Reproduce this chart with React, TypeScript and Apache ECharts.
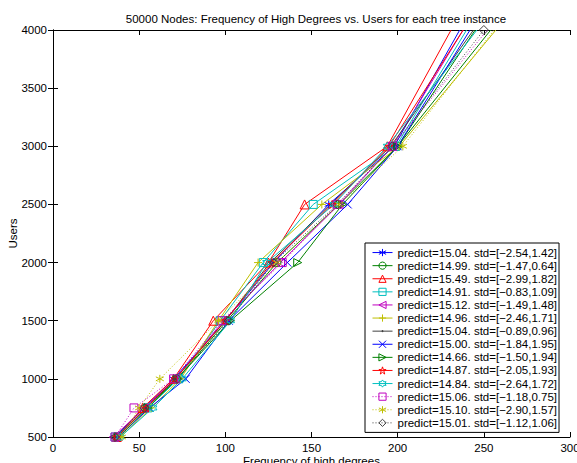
import React, { useEffect, useRef } from "react";
import * as echarts from "echarts";

const usersLevels = [500, 750, 1000, 1500, 2000, 2500, 3000, 4000];

const s1 = [36, 53, 70, 100, 128, 160, 198, 236];
const s2 = [37, 54, 72, 101, 130, 166, 200, 245];
const s3 = [37, 52, 70, 93, 125, 146, 194, 231];
const s4 = [36, 55, 73, 97, 122, 151, 199, 240];
const s5 = [35, 53, 71, 99, 132, 166, 197, 238];
const s6 = [39, 57, 74, 96, 119, 156, 201, 257];
const s7 = [37, 54, 71, 100, 126, 161, 196, 244];
const s8 = [38, 56, 77, 102, 136, 171, 200, 242];
const s9 = [38, 55, 72, 103, 142, 168, 200, 254];
const s10 = [37, 54, 71, 100, 127, 162, 195, 238];
const s11 = [39, 58, 75, 103, 124, 163, 194, 246];
const s12 = [36, 47, 70, 98, 133, 165, 197, 252];
const s13 = [40, 50, 62, 96, 130, 166, 203, 256];
const s14 = [36, 53, 72, 102, 128, 165, 197, 250];

const seriesValues = [s1, s2, s3, s4, s5, s6, s7, s8, s9, s10, s11, s12, s13, s14];

const legendLabels = [
  "predict=15.04. std=[\u22122.54,1.42]",
  "predict=14.99. std=[\u22121.47,0.64]",
  "predict=15.49. std=[\u22122.99,1.82]",
  "predict=14.91. std=[\u22120.83,1.09]",
  "predict=15.12. std=[\u22121.49,1.48]",
  "predict=14.96. std=[\u22122.46,1.71]",
  "predict=15.04. std=[\u22120.89,0.96]",
  "predict=15.00. std=[\u22121.84,1.95]",
  "predict=14.66. std=[\u22121.50,1.94]",
  "predict=14.87. std=[\u22122.05,1.93]",
  "predict=14.84. std=[\u22122.64,1.72]",
  "predict=15.06. std=[\u22121.18,0.75]",
  "predict=15.10. std=[\u22122.90,1.57]",
  "predict=15.01. std=[\u22121.12,1.06]",
];

const colors = [
  "#0000ff", "#008000", "#ff0000", "#00bfbf", "#bf00bf", "#bfbf00", "#404040",
  "#0000ff", "#008000", "#ff0000", "#00bfbf", "#bf00bf", "#bfbf00", "#404040",
];

const SYM = {
  asterisk: "path://M0,-10L0,10M-8.66,-5L8.66,5M-8.66,5L8.66,-5",
  circle: "circle",
  triangle: "triangle",
  square: "rect",
  triLeft: "path://M-10,0L10,-10L10,10Z",
  plus: "path://M0,-10L0,10M-10,0L10,0",
  point: "circle",
  cross: "path://M-10,-10L10,10M-10,10L10,-10",
  triRight: "path://M10,0L-10,-10L-10,10Z",
  pentagram:
    "path://M0,-10L2.25,-3.09L9.51,-3.09L3.63,1.18L5.88,8.09L0,3.82L-5.88,8.09L-3.63,1.18L-9.51,-3.09L-2.25,-3.09Z",
  hexagram:
    "path://M0,-10L2.89,-5L8.66,-5L5.77,0L8.66,5L2.89,5L0,10L-2.89,5L-8.66,5L-5.77,0L-8.66,-5L-2.89,-5Z",
  diamond: "diamond",
};

const markers = [
  "asterisk", "circle", "triangle", "square", "triLeft", "plus", "point",
  "cross", "triRight", "pentagram", "hexagram", "square", "asterisk", "diamond",
];
const dotted = [false, false, false, false, false, false, false, false, false, false, false, true, true, true];

const FONT = "Liberation Sans, Arial, Helvetica, sans-serif";
const CLEAR = "rgba(255,255,255,0)";

export default function App() {
  const ref = useRef<HTMLDivElement>(null);
  useEffect(() => {
    document.body.style.margin = "0";
    const chart = echarts.init(ref.current!, null, { renderer: "svg" });
    const styleFor = (i: number) =>
      markers[i] === "point"
        ? { color: colors[i], borderColor: colors[i], borderWidth: 0 }
        : { color: CLEAR, borderColor: colors[i], borderWidth: 1 };
    const series = seriesValues.map((vals, i) => {
      const c = colors[i];
      const m = markers[i];
      const isPoint = m === "point";
      return {
        name: legendLabels[i],
        type: "line",
        symbol: (SYM as any)[m],
        symbolSize: isPoint ? 3 : m === "triangle" || m === "diamond" ? 9 : 8,
        showAllSymbol: true,
        clip: true,
        lineStyle: { color: c, width: 1, type: dotted[i] ? [1, 2] : "solid" },
        itemStyle: styleFor(i),
        emphasis: { disabled: true },
        data: vals.map((x, j) => {
          const last = j === vals.length - 1;
          if (last && i !== 13) return { value: [x, usersLevels[j]], symbolSize: 0 };
          return { value: [x, usersLevels[j]] };
        }),
      };
    });
    const axisCommon = {
      type: "value",
      axisLine: { show: true, lineStyle: { color: "#000", width: 1 } },
      axisTick: { show: true, inside: true, length: 5, lineStyle: { color: "#000" } },
      splitLine: { show: false },
    };
    chart.setOption({
      animation: false,
      backgroundColor: "#fff",
      title: {
        text: "50000 Nodes: Frequency of High Degrees vs. Users for each tree instance",
        left: 311,
        top: 8,
        textAlign: "center",
        textStyle: { fontFamily: FONT, fontSize: 11.5, fontWeight: "normal", color: "#000" },
      },
      grid: { left: 53, right: 7, top: 30, bottom: 26, containLabel: false, outerBoundsMode: "none" },
      legend: {
        orient: "vertical",
        left: 365,
        top: 243,
        padding: [3, 2, 3, 7],
        itemWidth: 20,
        itemHeight: 9,
        itemGap: 0,
        backgroundColor: "#fff",
        borderColor: "#000",
        borderWidth: 1,
        borderRadius: 0,
        selectedMode: false,
        itemStyle: { color: CLEAR, borderColor: "inherit", borderWidth: 1 },
        lineStyle: { width: 1 },
        textStyle: { fontFamily: FONT, fontSize: 11.5, color: "#000", lineHeight: 13.1 },
        data: legendLabels.map((name, i) =>
          markers[i] === "point"
            ? {
                name,
                icon: "path://M0,4.5L20,4.5M9.5,4L10.5,4L10.5,5L9.5,5Z",
              }
            : { name }
        ),
      },
      xAxis: [
        {
          ...axisCommon,
          min: 0,
          max: 300,
          interval: 50,
          position: "bottom",
          name: "Frequency of high degrees",
          nameLocation: "middle",
          nameGap: 18,
          nameMoveOverlap: false,
          nameTextStyle: { fontFamily: FONT, fontSize: 11.5, color: "#000" },
          axisLabel: { fontFamily: FONT, fontSize: 11.5, color: "#000", margin: 5 },
        },
        {
          ...axisCommon,
          min: 0,
          max: 300,
          interval: 50,
          position: "top",
          axisLabel: { show: false },
        },
      ],
      yAxis: [
        {
          ...axisCommon,
          min: 500,
          max: 4000,
          interval: 500,
          position: "left",
          name: "Users",
          nameLocation: "middle",
          nameGap: 34,
          nameMoveOverlap: false,
          nameRotate: 90,
          nameTextStyle: { fontFamily: FONT, fontSize: 11.5, color: "#000" },
          axisLabel: {
            fontFamily: FONT,
            fontSize: 11.5,
            color: "#000",
            margin: 6,
            formatter: (v: number) => String(v),
          },
        },
        {
          ...axisCommon,
          min: 500,
          max: 4000,
          interval: 500,
          position: "right",
          axisLabel: { show: false },
        },
      ],
      series,
    });
    return () => chart.dispose();
  }, []);
  return (
    <div
      ref={ref}
      style={{ position: "fixed", left: 0, top: 0, width: 577, height: 463 }}
    />
  );
}
